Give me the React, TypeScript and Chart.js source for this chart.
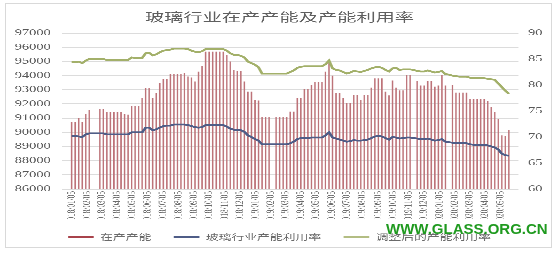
import React, { useEffect, useRef } from 'react';
import { Chart, registerables } from 'chart.js';

Chart.register(...registerables);

const TITLE = '玻璃行业在产产能及产能利用率';
const seriesNames = ['在产产能', '玻璃行业产能利用率', '调整后的产能利用率'];
const START_DATE = '2018/01/05';

const monthLabels = [
  '2018/01/05', '2018/02/05', '2018/03/05', '2018/04/05', '2018/05/05', '2018/06/05',
  '2018/07/05', '2018/08/05', '2018/09/05', '2018/10/05', '2018/11/05', '2018/12/05',
  '2019/01/05', '2019/02/05', '2019/03/05', '2019/04/05', '2019/05/05', '2019/06/05',
  '2019/07/05', '2019/08/05', '2019/09/05', '2019/10/05', '2019/11/05', '2019/12/05',
  '2020/01/05', '2020/02/05', '2020/03/05', '2020/04/05', '2020/05/05',
];

// weekly, from 2018/01/05
const capacity: (number | null)[] = [
  90750, 90750, 91000, 90700, 91270, 91580, null, null, 91650, 91650,
  91410, 91410, 91410, 91410, 91410, 91300, 91250, 91840, 91840, 91840,
  92400, 93100, 93100, 92400, 92750, 93460, 93740, 93740, 94100, 94100,
  94100, 94100, 94160, 93930, 93860, 93580, 94280, 94680, 95690, 95690,
  95690, 95690, 95690, 95690, 95460, 94990, 94400, 94330, 94330, 93580,
  92870, 92870, 92280, 92240, 91060, 91060, 91060, null, 91060, 91060,
  91060, 91060, 91460, 91460, 92400, 92400, 93050, 93050, 93340, 93530,
  93530, 93530, 94280, 94900, 94000, 92750, 92750, 92400, 92050, 92050,
  92640, 92640, 92280, 92640, 92640, 93150, 93800, 93800, 93800, 92870,
  92600, 93650, 93150, 92950, 92950, 94040, 94040, null, 93640, 93300,
  93300, 93600, 93600, 93220, 93300, 94040, 93300, null, 93340, 92800,
  92800, 92800, 92800, 92320, 92320, 92320, 92320, 92320, 92230, 91760,
  91420, 90950, 89780, 89740, 90140,
];

const utilization = [
  70.2, 70.2, 70.1, 70.0, 70.5, 70.7, 70.7, 70.7, 70.7, 70.7,
  70.5, 70.5, 70.5, 70.5, 70.5, 70.5, 70.5, 70.9, 70.9, 70.9,
  70.9, 71.8, 71.8, 71.3, 71.5, 71.8, 72.1, 72.2, 72.2, 72.4,
  72.4, 72.4, 72.4, 72.3, 72.1, 71.9, 71.8, 71.9, 72.3, 72.3,
  72.3, 72.3, 72.3, 72.3, 72.0, 71.6, 71.4, 71.3, 71.3, 71.0,
  70.3, 70.0, 69.6, 69.3, 68.6, 68.6, 68.6, 68.6, 68.6, 68.6,
  68.6, 68.6, 68.8, 69.1, 69.6, 69.8, 69.8, 69.8, 69.9, 69.9,
  69.9, 69.9, 70.3, 70.9, 69.9, 69.7, 69.5, 69.3, 69.1, 69.2,
  69.4, 69.3, 69.3, 69.4, 69.5, 69.8, 70.1, 70.2, 70.1, 69.8,
  69.5, 70.0, 69.9, 69.7, 69.8, 69.9, 69.9, 69.8, 69.7, 69.6,
  69.6, 69.7, 69.5, 69.3, 69.4, 69.6, 69.1, 69.0, 68.9, 68.8,
  68.8, 68.8, 68.8, 68.6, 68.5, 68.5, 68.5, 68.5, 68.4, 68.2,
  68.0, 67.6, 66.8, 66.5, 66.4,
];

const adjustedUtilization = [
  84.4, 84.4, 84.5, 84.2, 84.7, 85.0, 85.0, 85.0, 85.0, 85.0,
  84.8, 84.8, 84.8, 84.8, 84.8, 84.8, 84.8, 85.3, 85.2, 85.2,
  85.2, 86.1, 86.2, 85.7, 85.9, 86.3, 86.6, 86.7, 86.8, 87.0,
  87.0, 87.0, 87.0, 86.9, 86.6, 86.4, 86.3, 86.5, 86.9, 86.9,
  86.9, 86.9, 86.9, 86.9, 86.6, 86.1, 85.8, 85.8, 85.6, 85.3,
  84.5, 84.2, 83.9, 83.4, 82.2, 82.2, 82.2, 82.2, 82.2, 82.2,
  82.2, 82.2, 82.5, 82.8, 83.3, 83.5, 83.6, 83.6, 83.6, 83.6,
  83.6, 83.6, 84.0, 84.7, 83.2, 82.9, 82.8, 82.5, 82.2, 82.4,
  82.7, 82.6, 82.5, 82.7, 82.9, 83.2, 83.4, 83.5, 83.3, 82.9,
  82.6, 83.2, 83.3, 82.9, 83.0, 83.0, 83.0, 82.9, 82.7, 82.6,
  82.6, 82.8, 82.6, 82.4, 82.5, 82.7, 82.1, 82.0, 81.8, 81.7,
  81.6, 81.6, 81.6, 81.4, 81.3, 81.3, 81.3, 81.3, 81.2, 81.1,
  81.0, 80.3, 79.6, 78.9, 78.3,
];

const CANVAS_W = 349;
const CANVAS_H = 253;
const CJK = '"Noto Sans CJK SC", "Noto Sans", sans-serif';
const SERIF = '"Liberation Serif", "DejaVu Serif", serif';

function toUTC(s: string) {
  const [y, m, d] = s.split('/').map(Number);
  return Date.UTC(y, m - 1, d);
}
function weekPos(label: string) {
  return (toUTC(label) - toUTC(START_DATE)) / (7 * 86400000);
}

export default function App() {
  const ref = useRef<HTMLCanvasElement>(null);

  useEffect(() => {
    const legendColors = ['#a8434b', '#4f5d87', '#b3bd83'];
    const chart = new Chart(ref.current as HTMLCanvasElement, {
      type: 'bar',
      data: {
        datasets: [
          {
            type: 'bar',
            label: seriesNames[0],
            data: capacity.map((v, i) => ({ x: i, y: v })) as any,
            backgroundColor: '#bd7379',
            borderWidth: 0,
            categoryPercentage: 1,
            barPercentage: 0.42,
            yAxisID: 'y',
            order: 3,
          },
          {
            type: 'line',
            label: seriesNames[1],
            data: utilization.map((v, i) => ({ x: i, y: v })) as any,
            borderColor: '#4f5d87',
            backgroundColor: '#4f5d87',
            borderWidth: 1.8,
            pointRadius: 0,
            tension: 0,
            yAxisID: 'y1',
            order: 1,
          },
          {
            type: 'line',
            label: seriesNames[2],
            data: adjustedUtilization.map((v, i) => ({ x: i, y: v })) as any,
            borderColor: '#a3b06a',
            backgroundColor: '#a3b06a',
            borderWidth: 1.8,
            pointRadius: 0,
            tension: 0,
            yAxisID: 'y1',
            order: 2,
          },
        ],
      },
      options: {
        responsive: false,
        animation: false,
        devicePixelRatio: 3,
        layout: { padding: { left: 0, right: 0, top: 0, bottom: 2 } },
        plugins: {
          title: {
            display: true,
            text: TITLE,
            color: '#5f5f5f',
            font: { family: CJK, size: 12, weight: 'normal', lineHeight: 1.2 },
            padding: { top: 10, bottom: 8.6 },
          },
          legend: {
            position: 'bottom',
            labels: {
              boxWidth: 16,
              boxHeight: 2,
              padding: 14,
              color: '#6a6a6a',
              font: { family: CJK, size: 8 },
              sort: (a: any, b: any) => a.datasetIndex - b.datasetIndex,
              generateLabels: (c: any) => {
                const items = (Chart.defaults.plugins.legend.labels as any).generateLabels(c);
                return items.map((it: any) => ({
                  ...it,
                  lineWidth: 0,
                  fillStyle: legendColors[it.datasetIndex],
                  strokeStyle: legendColors[it.datasetIndex],
                }));
              },
            },
          },
          tooltip: { enabled: false },
        },
        scales: {
          x: {
            type: 'linear',
            min: -0.5,
            max: capacity.length - 0.5,
            grid: { display: false, drawTicks: false },
            border: { display: false },
            afterBuildTicks: (s: any) => {
              s.ticks = monthLabels.map((l) => ({ value: weekPos(l) }));
            },
            afterFit: (s: any) => {
              s.height = 30;
            },
            ticks: {
              autoSkip: false,
              minRotation: 90,
              maxRotation: 90,
              padding: 2,
              color: '#6c6c6c',
              font: { family: SERIF, size: 7.3 },
              callback: (_v: any, i: number) => monthLabels[i],
            },
          },
          y: {
            position: 'left',
            min: 86000,
            max: 97000,
            grid: { color: '#dcdcdc', drawTicks: false },
            border: { display: false },
            afterFit: (s: any) => {
              s.width = 38.7;
            },
            ticks: {
              stepSize: 1000,
              padding: 7,
              color: '#595959',
              font: { family: SERIF, size: 9 },
              callback: (v: any) => String(v),
            },
          },
          y1: {
            position: 'right',
            min: 60,
            max: 90,
            grid: { display: false, drawTicks: false },
            border: { display: false },
            afterFit: (s: any) => {
              s.width = 25.3;
            },
            ticks: {
              stepSize: 5,
              padding: 6,
              color: '#595959',
              font: { family: SERIF, size: 9 },
              callback: (v: any) => String(v),
            },
          },
        },
      } as any,
    });
    return () => chart.destroy();
  }, []);

  return (
    <div style={{ position: 'absolute', left: 0, top: 0, width: 559, height: 253, background: '#fff' }}>
      <div
        style={{
          position: 'absolute',
          left: 5,
          top: 3,
          width: 545,
          height: 243,
          border: '1px solid #d9d9d9',
        }}
      />
      <canvas
        ref={ref}
        width={CANVAS_W}
        height={CANVAS_H}
        style={{ position: 'absolute', left: 0, top: 0, width: '559px', height: '253px' }}
      />
      <div
        style={{
          position: 'absolute',
          left: 386,
          top: 221,
          font: 'bold 15px "Liberation Sans", Arial, sans-serif',
          lineHeight: '15px',
          color: '#1f9a1f',
          whiteSpace: 'nowrap',
        }}
      >
        WWW.GLASS.ORG.CN
      </div>
    </div>
  );
}
